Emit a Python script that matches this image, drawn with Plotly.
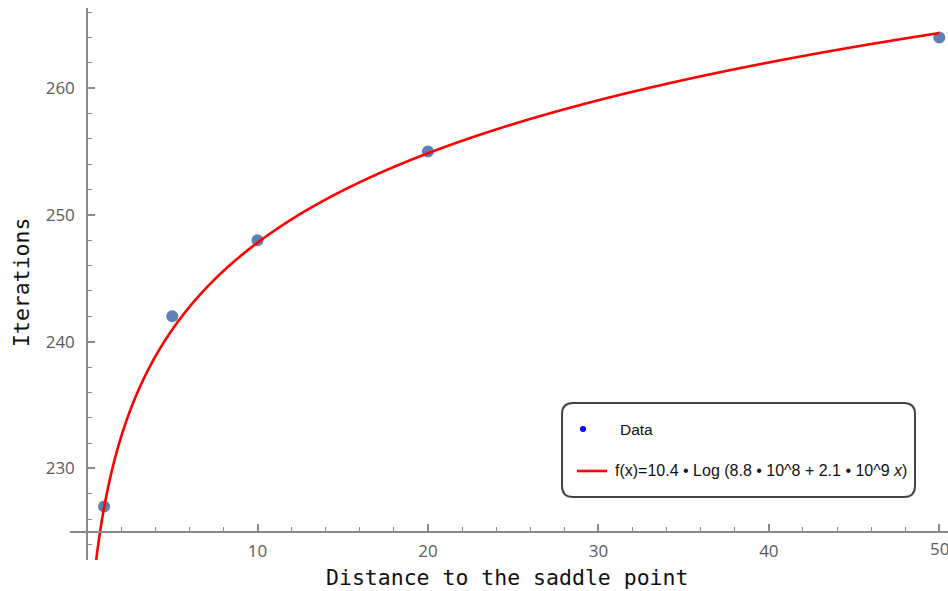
import numpy as np
import plotly.graph_objects as go

# ---- data ----
distance = [1, 5, 10, 20, 50]
iterations = [227, 242, 248, 255, 264]

# fitted curve a*Log(b + c*x), parameters estimated from the drawn curve
fit_a = 10.49
fit_b = 7.31e8
fit_c = 1.745e9
fit_x_start, fit_x_end = 0.0, 50.0

x_tickvals = [10, 20, 30, 40]
x_edge_tick = 50
y_tickvals = [230, 240, 250, 260]

legend_data_label = "Data"
legend_fit_label = "f(x)=10.4 \u2022 Log (8.8 \u2022 10^8 + 2.1 \u2022 10^9 <i>x</i>)"
x_title = "Distance to the saddle point"
y_title = "Iterations"

W, H = 948, 591

xf = np.linspace(fit_x_start, fit_x_end, 3000)
yf = fit_a * np.log(fit_b + fit_c * xf)

AXIS = "#8a8a8a"
TICKFONT = dict(family="Open Sans", size=17, color="#5a5a5a")

fig = go.Figure()
fig.add_trace(go.Scatter(x=distance, y=iterations, mode="markers",
                         marker=dict(size=12, color="rgb(94,129,181)"),
                         cliponaxis=False, showlegend=False))
fig.add_trace(go.Scatter(x=xf, y=yf, mode="lines",
                         line=dict(color="#ff0000", width=2.6, simplify=False),
                         showlegend=False))


def px(v):
    return v / W


def py(v):
    return 1 - v / H


fig.update_layout(
    width=W, height=H,
    margin=dict(l=0, r=0, t=0, b=0),
    paper_bgcolor="white", plot_bgcolor="white",
    xaxis=dict(domain=[px(70), 1], range=[-1.0, 50.51],
               anchor="free", position=py(531.7),
               showgrid=False, zeroline=False,
               showline=True, linecolor=AXIS, linewidth=1.5,
               ticks="inside", ticklen=7, tickwidth=1.5, tickcolor=AXIS,
               tickmode="array", tickvals=x_tickvals + [x_edge_tick],
               ticktext=[str(v) for v in x_tickvals] + [""],
               ticklabelstandoff=4,
               tickfont=TICKFONT,
               minor=dict(tickmode="linear", tick0=0, dtick=2, ticks="inside",
                          ticklen=4, tickwidth=1.2, tickcolor=AXIS)),
    yaxis=dict(domain=[py(560), py(8)], range=[222.77, 266.33],
               anchor="free", position=px(87),
               showgrid=False, zeroline=False,
               showline=True, linecolor=AXIS, linewidth=1.5,
               ticks="inside", ticklen=7, tickwidth=1.5, tickcolor=AXIS,
               tickmode="array", tickvals=y_tickvals,
               ticklabelstandoff=8,
               tickfont=TICKFONT,
               minor=dict(tickmode="linear", tick0=0, dtick=2, ticks="inside",
                          ticklen=4, tickwidth=1.2, tickcolor=AXIS)),
)

# tick label at the right edge (plotly drops it because it overflows the axis)
fig.add_annotation(x=x_edge_tick, y=py(548), xref="x", yref="paper",
                   text=str(x_edge_tick), showarrow=False,
                   font=TICKFONT, xanchor="center", yanchor="middle")

# axis titles
fig.add_annotation(x=px(507), y=py(577), xref="paper", yref="paper",
                   text=x_title, showarrow=False,
                   font=dict(family="DejaVu Sans Mono", size=21.5, color="#111"),
                   xanchor="center", yanchor="middle")
fig.add_annotation(x=px(21), y=py(283), xref="paper", yref="paper",
                   text=y_title, showarrow=False, textangle=-90,
                   font=dict(family="DejaVu Sans Mono", size=21.5, color="#111"),
                   xanchor="center", yanchor="middle")

# legend box with rounded corners
x0, x1, y0, y1, r = 562, 915, 403, 497, 11
rx, ry = r / W, r / H
X0, X1, Y0, Y1 = px(x0), px(x1), py(y1), py(y0)
path = (f"M {X0+rx},{Y0} L {X1-rx},{Y0} Q {X1},{Y0} {X1},{Y0+ry} "
        f"L {X1},{Y1-ry} Q {X1},{Y1} {X1-rx},{Y1} "
        f"L {X0+rx},{Y1} Q {X0},{Y1} {X0},{Y1-ry} "
        f"L {X0},{Y0+ry} Q {X0},{Y0} {X0+rx},{Y0} Z")
fig.add_shape(type="path", path=path, xref="paper", yref="paper",
              line=dict(color="#444444", width=2), fillcolor="white", layer="above")

# legend markers
fig.add_shape(type="circle", xref="paper", yref="paper",
              x0=px(580), x1=px(586), y0=py(432), y1=py(426),
              fillcolor="#0000ff", line=dict(width=0), layer="above")
fig.add_shape(type="line", xref="paper", yref="paper",
              x0=px(577), x1=px(607), y0=py(471), y1=py(471),
              line=dict(color="#ff0000", width=2.6), layer="above")

fig.add_annotation(x=px(618), y=py(429), xref="paper", yref="paper",
                   text=legend_data_label, showarrow=False,
                   font=dict(family="Liberation Sans", size=15.5, color="#111"),
                   xanchor="left", yanchor="middle")
fig.add_annotation(x=px(613), y=py(471), xref="paper", yref="paper",
                   text=legend_fit_label, showarrow=False,
                   font=dict(family="Liberation Sans", size=16, color="#111"),
                   xanchor="left", yanchor="middle")

fig.write_html("out.html")
